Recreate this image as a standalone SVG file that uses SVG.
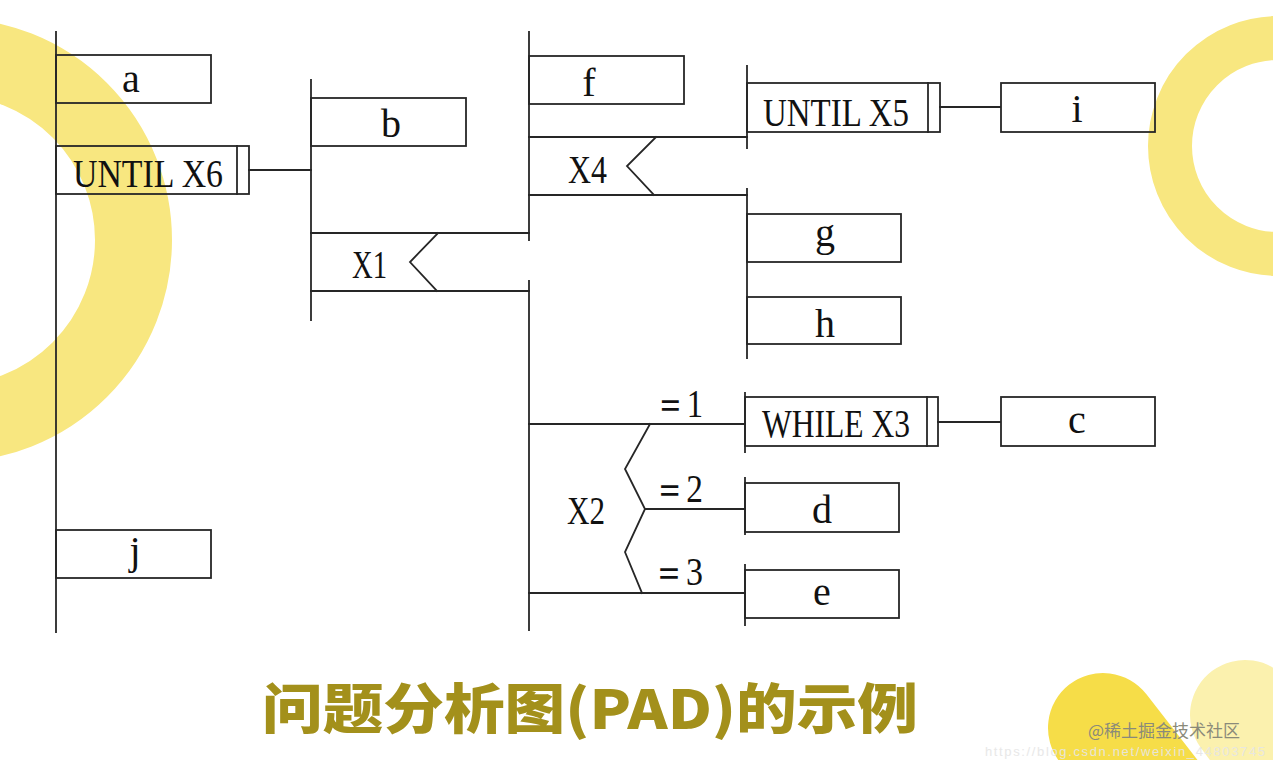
<svg xmlns="http://www.w3.org/2000/svg" width="1273" height="760" viewBox="0 0 1273 760">
<style>
.ln{stroke:#262626;stroke-width:1.8;fill:none;stroke-linecap:square}
.bx{stroke:#262626;stroke-width:1.8;fill:none}
.t{font-family:"Liberation Serif","DejaVu Serif",serif;font-size:40px;fill:#111}
.c{text-anchor:middle}
</style>
<rect width="1273" height="760" fill="#ffffff"/>
<g id="decor">
<circle cx="-50" cy="240" r="183.5" fill="none" stroke="#F8E780" stroke-width="77"/>
<circle cx="1278" cy="146" r="108" fill="none" stroke="#F8E780" stroke-width="44"/>
<line x1="1245" y1="715" x2="1330" y2="830" stroke="#FBF1AE" stroke-width="110" stroke-linecap="round"/>
<line x1="1103" y1="728" x2="1190" y2="840" stroke="#F6DD48" stroke-width="110" stroke-linecap="round"/>
</g>
<g id="connectors">
<line class="ln" x1="56" y1="32" x2="56" y2="632"/>
<line class="ln" x1="249" y1="170" x2="311" y2="170"/>
<line class="ln" x1="311" y1="80" x2="311" y2="320"/>
<polyline class="ln" points="311,233 529,233"/>
<polyline class="ln" points="311,291 529,291"/>
<polyline class="ln" points="438,233 410,262 437,291"/>
<line class="ln" x1="529" y1="32" x2="529" y2="240"/>
<line class="ln" x1="529" y1="281" x2="529" y2="630"/>
<line class="ln" x1="529" y1="137" x2="747" y2="137"/>
<line class="ln" x1="529" y1="195" x2="747" y2="195"/>
<polyline class="ln" points="656,137 627,166 654,195"/>
<line class="ln" x1="747" y1="66" x2="747" y2="148"/>
<line class="ln" x1="747" y1="189" x2="747" y2="358"/>
<line class="ln" x1="940" y1="107" x2="1000" y2="107"/>
<line class="ln" x1="529" y1="424" x2="745" y2="424"/>
<line class="ln" x1="645" y1="509" x2="745" y2="509"/>
<line class="ln" x1="529" y1="593" x2="745" y2="593"/>
<polyline class="ln" points="650,424 625,469 645,509 625,552 642,593"/>
<line class="ln" x1="745" y1="393" x2="745" y2="452"/>
<line class="ln" x1="745" y1="478" x2="745" y2="534"/>
<line class="ln" x1="745" y1="565" x2="745" y2="625"/>
<line class="ln" x1="938" y1="422" x2="1000" y2="422"/>
</g>
<g id="node-a"><rect class="bx" x="56" y="55" width="155" height="48"/><text class="t c" x="131" y="92">a</text></g>
<g id="node-until-x6"><rect class="bx" x="56" y="146" width="193" height="48"/><line class="ln" x1="237" y1="146" x2="237" y2="194"/><text class="t" x="73" y="187" textLength="150" lengthAdjust="spacingAndGlyphs">UNTIL  X6</text></g>
<g id="node-j"><rect class="bx" x="56" y="530" width="155" height="48"/><text class="t c" x="135" y="564">j</text></g>
<g id="node-b"><rect class="bx" x="311" y="98" width="155" height="48"/><text class="t c" x="391" y="137">b</text></g>
<g id="node-x1"><text class="t" x="352" y="278" textLength="35" lengthAdjust="spacingAndGlyphs">X1</text></g>
<g id="node-f"><rect class="bx" x="529" y="56" width="155" height="48"/><text class="t c" x="589" y="96">f</text></g>
<g id="node-x4"><text class="t" x="568" y="183" textLength="39" lengthAdjust="spacingAndGlyphs">X4</text></g>
<g id="node-until-x5"><rect class="bx" x="747" y="83" width="193" height="49"/><line class="ln" x1="928" y1="83" x2="928" y2="132"/><text class="t" x="763" y="126" textLength="146" lengthAdjust="spacingAndGlyphs">UNTIL X5</text></g>
<g id="node-i"><rect class="bx" x="1001" y="83" width="154" height="49"/><text class="t c" x="1077" y="122">i</text></g>
<g id="node-g"><rect class="bx" x="747" y="214" width="154" height="48"/><text class="t c" x="825" y="246">g</text></g>
<g id="node-h"><rect class="bx" x="747" y="297" width="154" height="47"/><text class="t c" x="825" y="337">h</text></g>
<g id="node-x2"><text class="t" x="567" y="524" textLength="38" lengthAdjust="spacingAndGlyphs">X2</text><text class="t" x="654" y="417" textLength="49" lengthAdjust="spacingAndGlyphs">＝1</text><text class="t" x="653" y="502" textLength="50" lengthAdjust="spacingAndGlyphs">＝2</text><text class="t" x="652" y="585" textLength="51" lengthAdjust="spacingAndGlyphs">＝3</text></g>
<g id="node-while-x3"><rect class="bx" x="745" y="397" width="193" height="49"/><line class="ln" x1="927" y1="397" x2="927" y2="446"/><text class="t" x="762" y="437" textLength="148" lengthAdjust="spacingAndGlyphs">WHILE X3</text></g>
<g id="node-c"><rect class="bx" x="1001" y="397" width="154" height="49"/><text class="t c" x="1077" y="433">c</text></g>
<g id="node-d"><rect class="bx" x="745" y="483" width="154" height="49"/><text class="t c" x="822" y="523">d</text></g>
<g id="node-e"><rect class="bx" x="745" y="570" width="154" height="48"/><text class="t c" x="822" y="605">e</text></g>
<g id="title"><text x="262" y="729" textLength="656" lengthAdjust="spacingAndGlyphs" style="font-family:'Noto Sans CJK SC','Noto Sans',sans-serif;font-weight:900;font-size:54px;fill:#A3901B">问题分析图(PAD)的示例</text></g>
<g id="watermark">
<text x="985" y="756" style="font-family:'Liberation Sans',sans-serif;font-size:13px;fill:#e6e6e6;opacity:0.9" textLength="280">https://blog.csdn.net/weixin_44803745</text>
<text x="1088" y="737" style="font-family:'Noto Sans CJK SC',sans-serif;font-size:17px;fill:#8a8a7a">@稀土掘金技术社区</text>
</g>
</svg>
